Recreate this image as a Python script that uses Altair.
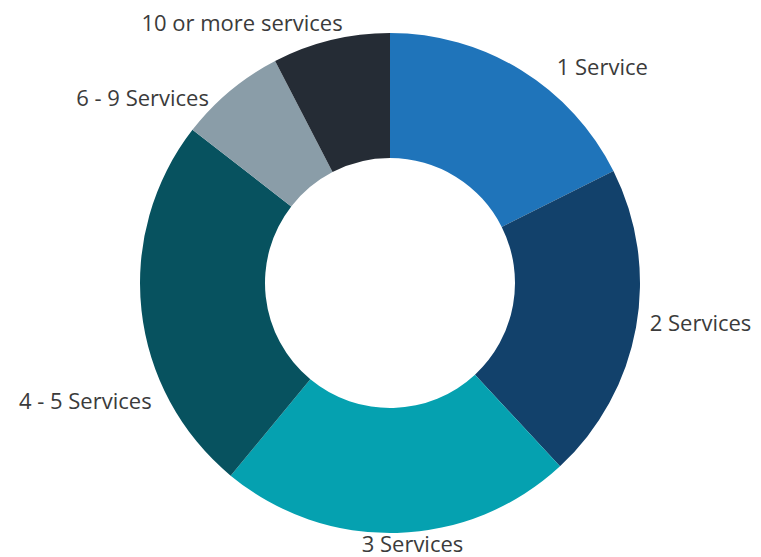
import altair as alt
import pandas as pd

categories = ["1 Service", "2 Services", "3 Services", "4 - 5 Services", "6 - 9 Services", "10 or more services"]
shares = [17.6, 20.5, 22.9, 24.5, 6.9, 7.6]
colors = ["#1F74BA", "#12416B", "#05A1B0", "#07525F", "#8A9DA8", "#252C35"]

# label styling: anchor, radial distance, small nudges (Excel-like placement)
label_style = {
    "1 Service": ("left", 268, 26, 13),
    "2 Services": ("left", 268, -4, -7),
    "3 Services": ("center", 265, 15, -3),
    "4 - 5 Services": ("right", 272, 32, 89),
    "6 - 9 Services": ("right", 272, -7, 25),
    "10 or more services": ("right", 272, 17, 5),
}

df = pd.DataFrame({"category": categories, "share": shares, "idx": list(range(len(categories)))})

CX, CY = 382, 275

base = alt.Chart(df)

arc = base.mark_arc(innerRadius=125, outerRadius=250, stroke=None).encode(
    theta=alt.Theta("share:Q", stack=True),
    color=alt.Color("category:N", sort=categories,
                    scale=alt.Scale(domain=categories, range=colors), legend=None),
    order=alt.Order("idx:Q"),
    x=alt.value(CX),
    y=alt.value(CY),
)

lab = base.transform_window(
    cum="sum(share)", sort=[alt.SortField("idx")], frame=[None, 0]
).transform_joinaggregate(
    total="sum(share)"
).transform_calculate(
    ang="2*PI*(datum.cum - datum.share/2)/datum.total"
)

layers = [arc]
for cat in categories:
    align, r, dx, dy = label_style[cat]
    layers.append(
        lab.transform_filter(alt.datum.category == cat).mark_text(
            align=align, baseline="middle", font="Open Sans", fontSize=22,
            color="#3b3b3b", dx=dx, dy=dy
        ).encode(
            theta=alt.Theta("ang:Q", scale=None),
            radius=alt.value(r),
            text="category:N",
            x=alt.value(CX),
            y=alt.value(CY),
        )
    )

chart = alt.layer(*layers).properties(
    width=745, height=549, padding=0, autosize=alt.AutoSizeParams(type="none")
).configure_view(stroke=None)

chart.save("out.html", embed_options={"renderer": "svg", "actions": False})
